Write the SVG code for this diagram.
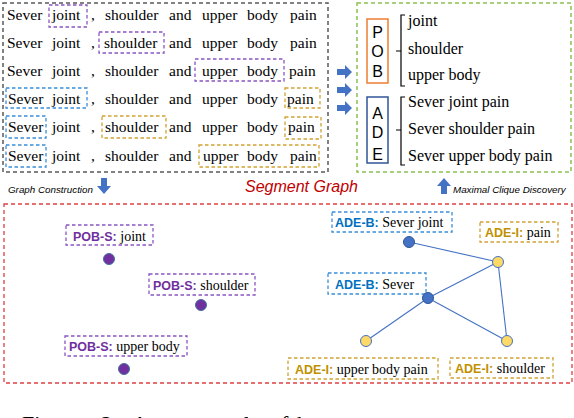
<svg xmlns="http://www.w3.org/2000/svg" width="574" height="418" viewBox="0 0 574 418">
<defs>
<style>
.s{font-family:"Liberation Serif","Times New Roman",serif;font-size:15.5px;fill:#000}
.r{font-family:"Liberation Serif","Times New Roman",serif;font-size:16px;fill:#000}
.ls{font-family:"Liberation Serif","Times New Roman",serif;font-size:14px;fill:#000;font-weight:normal}
.b{font-family:"Liberation Sans",Arial,sans-serif;font-weight:bold;font-size:12.5px}
.big{font-family:"Liberation Sans",Arial,sans-serif;font-size:16px;fill:#000}
.it{font-family:"Liberation Sans",Arial,sans-serif;font-style:italic;font-size:9.8px;fill:#000}
.pu{fill:none;stroke:#8A55C2;stroke-width:1.3;stroke-dasharray:3.5,2.5}
.bl{fill:none;stroke:#3A8FD9;stroke-width:1.3;stroke-dasharray:3.5,2.5}
.go{fill:none;stroke:#CFA233;stroke-width:1.3;stroke-dasharray:3.5,2.5}
.tpu{fill:#7030A0}.tbl{fill:#0070C0}.tgo{fill:#BF9000}
.edge{stroke:#4472C4;stroke-width:1.1;fill:none}
.np{fill:#7030A0;stroke:#41719C;stroke-width:1}
.nb{fill:#4472C4;stroke:#2F5597;stroke-width:1}
.ny{fill:#FFD966;stroke:#4472C4;stroke-width:1}
.arr{fill:#4472C4}
.br{fill:none;stroke:#000;stroke-width:1.2}
</style>
</defs>
<rect width="574" height="418" fill="#fff"/>

<!-- top-left sentences panel -->
<g id="sentences">
<rect x="3" y="3" width="325" height="169" fill="none" stroke="#595959" stroke-width="1.5" stroke-dasharray="4,3"/>
<text class="s" y="20"><tspan x="7">Sever</tspan><tspan x="52">joint</tspan><tspan x="91">,</tspan><tspan x="105">shoulder</tspan><tspan x="169">and</tspan><tspan x="202">upper</tspan><tspan x="247">body</tspan><tspan x="290">pain</tspan></text>
<text class="s" y="48"><tspan x="7">Sever</tspan><tspan x="52">joint</tspan><tspan x="91">,</tspan><tspan x="104">shoulder</tspan><tspan x="169">and</tspan><tspan x="202">upper</tspan><tspan x="247">body</tspan><tspan x="290">pain</tspan></text>
<text class="s" y="76"><tspan x="7">Sever</tspan><tspan x="52">joint</tspan><tspan x="91">,</tspan><tspan x="105">shoulder</tspan><tspan x="169">and</tspan><tspan x="202">upper</tspan><tspan x="247">body</tspan><tspan x="289">pain</tspan></text>
<text class="s" y="104"><tspan x="8">Sever</tspan><tspan x="52">joint</tspan><tspan x="91">,</tspan><tspan x="105">shoulder</tspan><tspan x="169">and</tspan><tspan x="202">upper</tspan><tspan x="247">body</tspan><tspan x="287">pain</tspan></text>
<text class="s" y="132"><tspan x="8">Sever</tspan><tspan x="52">joint</tspan><tspan x="91">,</tspan><tspan x="105">shoulder</tspan><tspan x="169">and</tspan><tspan x="202">upper</tspan><tspan x="247">body</tspan><tspan x="288">pain</tspan></text>
<text class="s" y="160.5"><tspan x="8">Sever</tspan><tspan x="52">joint</tspan><tspan x="91">,</tspan><tspan x="105">shoulder</tspan><tspan x="169">and</tspan><tspan x="203">upper</tspan><tspan x="247">body</tspan><tspan x="290">pain</tspan></text>
<rect class="pu" x="49" y="5" width="38" height="22"/>
<rect class="pu" x="99" y="32" width="65" height="21"/>
<rect class="pu" x="195" y="59" width="89" height="22"/>
<rect class="bl" x="6" y="88" width="81" height="20"/>
<rect class="go" x="285" y="88" width="35" height="20"/>
<rect class="bl" x="6" y="116" width="40" height="22"/>
<rect class="go" x="102" y="116" width="64" height="22"/>
<rect class="go" x="285" y="117" width="36" height="22"/>
<rect class="bl" x="6" y="145" width="40" height="22"/>
<rect class="go" x="199" y="145" width="120" height="22"/>
</g>

<!-- arrows to result panel -->
<g id="flow-arrows">
<path class="arr" d="M337,69 h8 v-4 l7,7 l-7,7 v-4 h-8 z"/>
<path class="arr" d="M337,87 h8 v-4 l7,7 l-7,7 v-4 h-8 z"/>
<path class="arr" d="M337,105 h8 v-4 l7,7 l-7,7 v-4 h-8 z"/>
</g>

<!-- top-right result panel -->
<g id="results">
<rect x="357" y="3" width="214" height="169" fill="none" stroke="#8CC152" stroke-width="1.5" stroke-dasharray="4,3"/>
<rect x="367" y="19" width="21" height="64" fill="#fff" stroke="#ED7D31" stroke-width="1.5"/>
<text class="big" x="377.5" y="38" text-anchor="middle">P</text>
<text class="big" x="377.5" y="57" text-anchor="middle">O</text>
<text class="big" x="377.5" y="77" text-anchor="middle">B</text>
<rect x="367" y="97" width="21" height="66" fill="#fff" stroke="#2F5597" stroke-width="1.5"/>
<text class="big" x="377.5" y="119" text-anchor="middle">A</text>
<text class="big" x="377.5" y="138" text-anchor="middle">D</text>
<text class="big" x="377.5" y="160" text-anchor="middle">E</text>
<path class="br" d="M405,15 h-4 v71 h4 M401,51 h-5"/>
<path class="br" d="M405,97 h-4 v68 h4 M401,130 h-5"/>
<text class="r" x="408" y="26">joint</text>
<text class="r" x="408" y="54">shoulder</text>
<text class="r" x="408" y="80">upper body</text>
<text class="r" x="408" y="107">Sever joint pain</text>
<text class="r" x="408" y="134">Sever shoulder pain</text>
<text class="r" x="408" y="161">Sever upper body pain</text>
</g>

<!-- middle captions -->
<g id="captions">
<text class="it" x="8" y="193">Graph Construction</text>
<path class="arr" d="M101,178 h6 v8 h4 l-7,8 l-7,-8 h4 z"/>
<text x="245" y="192" font-family="Liberation Sans, Arial, sans-serif" font-style="italic" font-size="16" fill="#C00000">Segment Graph</text>
<path class="arr" d="M441,194 h6 v-8 h4 l-7,-8 l-7,8 h4 z"/>
<text class="it" x="453" y="193">Maximal Clique Discovery</text>
</g>

<!-- segment graph panel -->
<rect x="4" y="204" width="568" height="179" fill="none" stroke="#E04040" stroke-width="1.3" stroke-dasharray="4,3"/>

<g id="connectors">
<line class="edge" x1="409" y1="242" x2="498" y2="262"/>
<line class="edge" x1="498" y1="262" x2="428" y2="298"/>
<line class="edge" x1="428" y1="298" x2="366" y2="341"/>
<line class="edge" x1="428" y1="298" x2="507" y2="341"/>
<line class="edge" x1="498" y1="262" x2="507" y2="341"/>
</g>

<g id="pob-joint">
<rect class="pu" x="66" y="225" width="87" height="20"/>
<text x="73" y="240.5"><tspan class="b tpu">POB-S:</tspan><tspan class="ls"> joint</tspan></text>
<circle class="np" cx="109" cy="259" r="5.5"/>
</g>
<g id="pob-shoulder">
<rect class="pu" x="149" y="274" width="106" height="21"/>
<text x="153" y="289.5"><tspan class="b tpu">POB-S:</tspan><tspan class="ls"> shoulder</tspan></text>
<circle class="np" cx="201" cy="305" r="5.5"/>
</g>
<g id="pob-upperbody">
<rect class="pu" x="65" y="336" width="122" height="20"/>
<text x="69" y="351"><tspan class="b tpu">POB-S:</tspan><tspan class="ls"> upper body</tspan></text>
<circle class="np" cx="124" cy="369" r="5.5"/>
</g>

<g id="ade-b-severjoint">
<rect class="bl" x="332" y="212" width="120" height="20"/>
<text x="335" y="227"><tspan class="b tbl">ADE-B:</tspan><tspan class="ls"> Sever joint</tspan></text>
<circle class="nb" cx="409" cy="242" r="5.5"/>
</g>
<g id="ade-i-pain">
<rect class="go" x="480" y="222" width="78" height="20"/>
<text x="485" y="237"><tspan class="b tgo">ADE-I:</tspan><tspan class="ls"> pain</tspan></text>
<circle class="ny" cx="498" cy="262" r="5.5"/>
</g>
<g id="ade-b-sever">
<rect class="bl" x="328" y="273" width="98" height="21"/>
<text x="335" y="289"><tspan class="b tbl">ADE-B:</tspan><tspan class="ls"> Sever</tspan></text>
<circle class="nb" cx="428" cy="298" r="5.5"/>
</g>
<g id="ade-i-upperbodypain">
<rect class="go" x="288" y="358" width="150" height="21"/>
<text x="295" y="373.5"><tspan class="b tgo">ADE-I:</tspan><tspan class="ls"> upper body pain</tspan></text>
<circle class="ny" cx="366" cy="341" r="5.5"/>
</g>
<g id="ade-i-shoulder">
<rect class="go" x="450" y="358" width="103" height="20"/>
<text x="455" y="373"><tspan class="b tgo">ADE-I:</tspan><tspan class="ls"> shoulder</tspan></text>
<circle class="ny" cx="507" cy="341" r="5.5"/>
</g>

<!-- cut-off figure caption -->
<text font-family="Liberation Serif, Times New Roman, serif" font-size="22" fill="#000" y="431"><tspan x="22">Figure</tspan><tspan x="101">2:</tspan><tspan x="132">An</tspan><tspan x="185">example</tspan><tspan x="270">of</tspan><tspan x="291">the</tspan></text>
</svg>
